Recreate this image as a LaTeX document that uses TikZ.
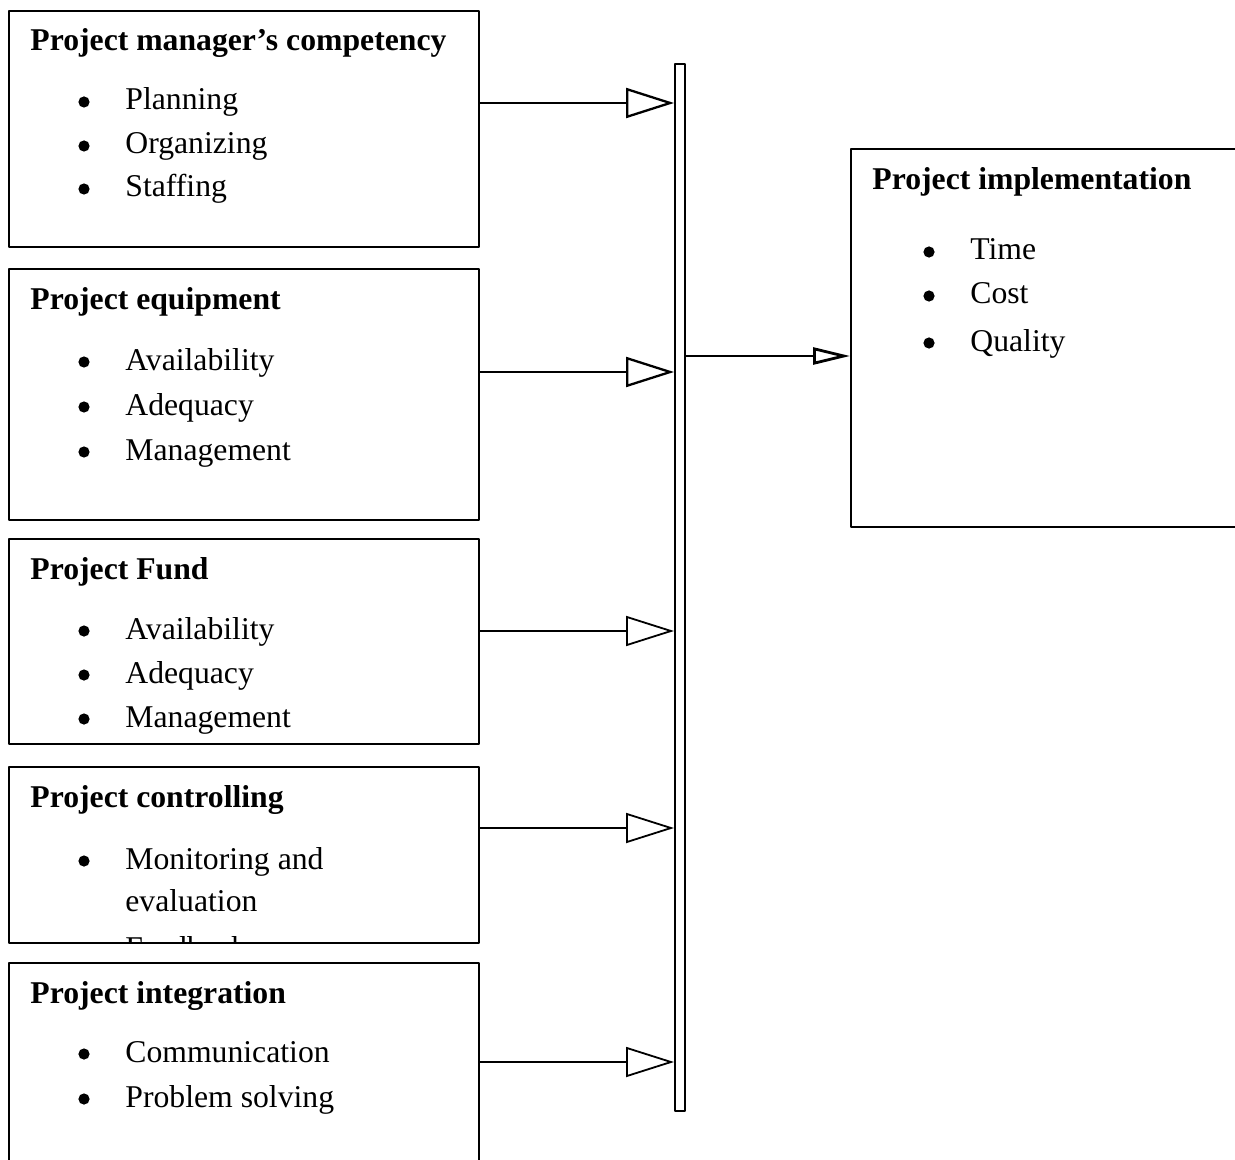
\documentclass[tikz,border=0pt]{standalone}
\usepackage{fontspec}
\setmainfont{Liberation Serif}
\usetikzlibrary{arrows.meta}
\tikzset{
  box/.style={draw, line width=.85pt, anchor=north west, inner sep=0pt},
  head/.style={anchor=base west, inner sep=0pt, font=\bfseries},
  item/.style={anchor=base west, inner sep=0pt},
  feed/.style={line width=.9pt, -{Triangle[open, length=24pt, width=15pt]}},
  result/.style={line width=1.4pt, -{Triangle[open, length=18.5pt, width=8.5pt]}}
}
\newcommand{\bul}[1]{\fill ([xshift=-20.5pt, yshift=4pt]#1.base west) circle (2.8pt);}
\begin{document}
\begin{tikzpicture}[x=.5pt, y=-.5pt, line join=round]
\fontsize{15.85pt}{19pt}\selectfont
\clip (0,0) rectangle (1235,1160);
% Boxes
\node[box, minimum width=235pt, minimum height=118pt] (comp) at (8,10) {};
\node[box, minimum width=235pt, minimum height=125.5pt] (equip) at (8,268) {};
\node[box, minimum width=235pt, minimum height=102.5pt] (fund) at (8,538) {};
\node[box, minimum width=235pt, minimum height=88pt] (ctrl) at (8,766) {};
\node[box, minimum width=235pt, minimum height=125pt] (integ) at (8,962) {};
\node[box, minimum width=205pt, minimum height=189pt] (impl) at (850,148) {};
\node[box, minimum width=5pt, minimum height=523.5pt] (bar) at (674,63) {};
% Texts
\node[head] (hcomp) at (30,51) {Project manager’s competency};
\node[item] (c1) at (125,110) {Planning};
\node[item] (c2) at (125,154) {Organizing};
\node[item] (c3) at (125,197) {Staffing};
\node[head] (hequip) at (30,310) {Project equipment};
\node[item] (e1) at (125,370) {Availability};
\node[item] (e2) at (125,415) {Adequacy};
\node[item] (e3) at (125,460) {Management};
\node[head] (hfund) at (30,579) {Project Fund};
\node[item] (f1) at (125,639) {Availability};
\node[item] (f2) at (125,683) {Adequacy};
\node[item] (f3) at (125,727) {Management};
\node[head] (hctrl) at (30,807) {Project controlling};
\node[item] (k1) at (125,869) {Monitoring and};
\node[item] (k1b) at (125,911) {evaluation};
\begin{scope}
\clip (ctrl.north west) rectangle (ctrl.south east);
\node[item] (k2) at (125,958) {Feedback};
\end{scope}
\node[head] (hinteg) at (30,1003) {Project integration};
\node[item] (g1) at (125,1062) {Communication};
\node[item] (g2) at (125,1107) {Problem solving};
\node[head] (himpl) at (872,190) {Project implementation};
\node[item] (i1) at (970,260) {Time};
\node[item] (i2) at (970,304) {Cost};
\node[item] (i3) at (970,351) {Quality};
\foreach \n in {c1,c2,c3,e1,e2,e3,f1,f2,f3,k1,g1,g2,i1,i2,i3} {\bul{\n}}
% Arrows
\coordinate (y1) at (0,103);
\coordinate (y2) at (0,372);
\coordinate (y3) at (0,631);
\coordinate (y4) at (0,828);
\coordinate (y5) at (0,1062);
\coordinate (y6) at (0,356);
\draw[feed, line width=1.15pt] (comp.east |- y1) -- (bar.west |- y1);
\draw[feed, line width=1.15pt] (equip.east |- y2) -- (bar.west |- y2);
\draw[feed] (fund.east |- y3) -- (bar.west |- y3);
\draw[feed] (ctrl.east |- y4) -- (bar.west |- y4);
\draw[feed] (integ.east |- y5) -- (bar.west |- y5);
\draw[result] (bar.east |- y6) -- (impl.west |- y6);
\end{tikzpicture}
\end{document}
